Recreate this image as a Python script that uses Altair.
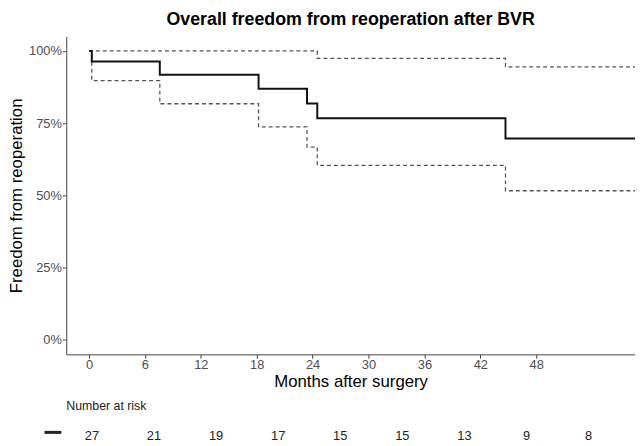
import altair as alt
import pandas as pd

# Kaplan-Meier estimate (percent) and 95% CI
km_months = [0, 0.3, 7.6, 18.2, 23.4, 24.5, 44.7, 60]
km_surv = [100, 96.3, 91.7, 86.9, 81.8, 76.7, 69.7, 69.7]
km_upper = [100, 100, 100, 100, 100, 97.4, 94.5, 94.5]
km_lower = [100, 89.7, 81.7, 73.7, 66.7, 60.4, 51.6, 51.6]

x_ticks = [0, 6, 12, 18, 24, 30, 36, 42, 48]
y_ticks = [0, 25, 50, 75, 100]

risk_months = [0, 6, 12, 18, 24, 30, 36, 42, 48]
risk_n = [27, 21, 19, 17, 15, 15, 13, 9, 8]

FONT = "Liberation Sans"

rows = []
for name, vals in [("est", km_surv), ("upper", km_upper), ("lower", km_lower)]:
    for m, v in zip(km_months, vals):
        rows.append({"month": m, "value": v, "series": name})
df = pd.DataFrame(rows)
risk_df = pd.DataFrame({"month": risk_months, "n": risk_n})

x_main = alt.Scale(domain=[-2.44, 58.6], nice=False, zero=False)
y_main = alt.Scale(domain=[-5, 105], nice=False, zero=False)

x_axis = alt.Axis(
    values=x_ticks, title="Months after surgery", grid=False,
    labelFont=FONT, labelFontSize=13, labelColor="#4d4d4d",
    titleFont=FONT, titleFontSize=17, titleFontWeight="normal", titleColor="black",
    tickColor="#444", tickSize=4, domainColor="#444", labelPadding=0, titlePadding=3,
)
y_axis = alt.Axis(
    values=y_ticks, title="Freedom from reoperation", grid=False,
    labelExpr="datum.value + '%'",
    labelFont=FONT, labelFontSize=13, labelColor="#4d4d4d",
    titleFont=FONT, titleFontSize=17, titleFontWeight="normal", titleColor="black",
    tickColor="#444", tickSize=4, domainColor="#444", labelPadding=1, titlePadding=3,
)

base = alt.Chart(df).encode(
    x=alt.X("month:Q", scale=x_main, axis=x_axis),
    y=alt.Y("value:Q", scale=y_main, axis=y_axis),
)

ci = base.transform_filter(
    alt.FieldOneOfPredicate(field="series", oneOf=["upper", "lower"])
).mark_line(
    interpolate="step-after", strokeDash=[4, 3], strokeWidth=1.3, color="#555", clip=True
).encode(detail="series:N")

est = base.transform_filter(
    alt.datum.series == "est"
).mark_line(
    interpolate="step-after", strokeWidth=2, color="#111", clip=True
)

curves = alt.layer(ci, est)

risk_text = alt.Chart(risk_df).mark_text(
    font=FONT, fontSize=13, color="#222", baseline="middle"
).encode(
    x=alt.X("month:Q", scale=alt.Scale(domain=[-2.48, 52.49], nice=False, zero=False), axis=None),
    y=alt.value(405),
    text="n:Q",
)

risk_label = alt.Chart(pd.DataFrame({"t": ["Number at risk"]})).mark_text(
    font=FONT, fontSize=12.5, color="#222", align="left", baseline="middle"
).encode(x=alt.value(0), y=alt.value(374), text="t:N")

risk_dash = alt.Chart(pd.DataFrame({"t": ["est"]})).mark_rule(
    strokeWidth=3, color="#222"
).encode(x=alt.value(-22), x2=alt.value(-5), y=alt.value(401))

chart = alt.layer(curves, risk_text, risk_label, risk_dash).resolve_scale(
    x="independent"
).properties(
    width=576, height=322,
    title=alt.TitleParams(
        "Overall freedom from reoperation after BVR", font=FONT, fontSize=18,
        fontWeight="bold", color="black", anchor="middle", offset=8,
    ),
    autosize=alt.AutoSizeParams(type="none"),
    padding={"left": 59, "top": 26, "right": 0, "bottom": 88},
).configure_view(stroke=None)

chart.save("out.html", embed_options={"renderer": "svg", "actions": False})
